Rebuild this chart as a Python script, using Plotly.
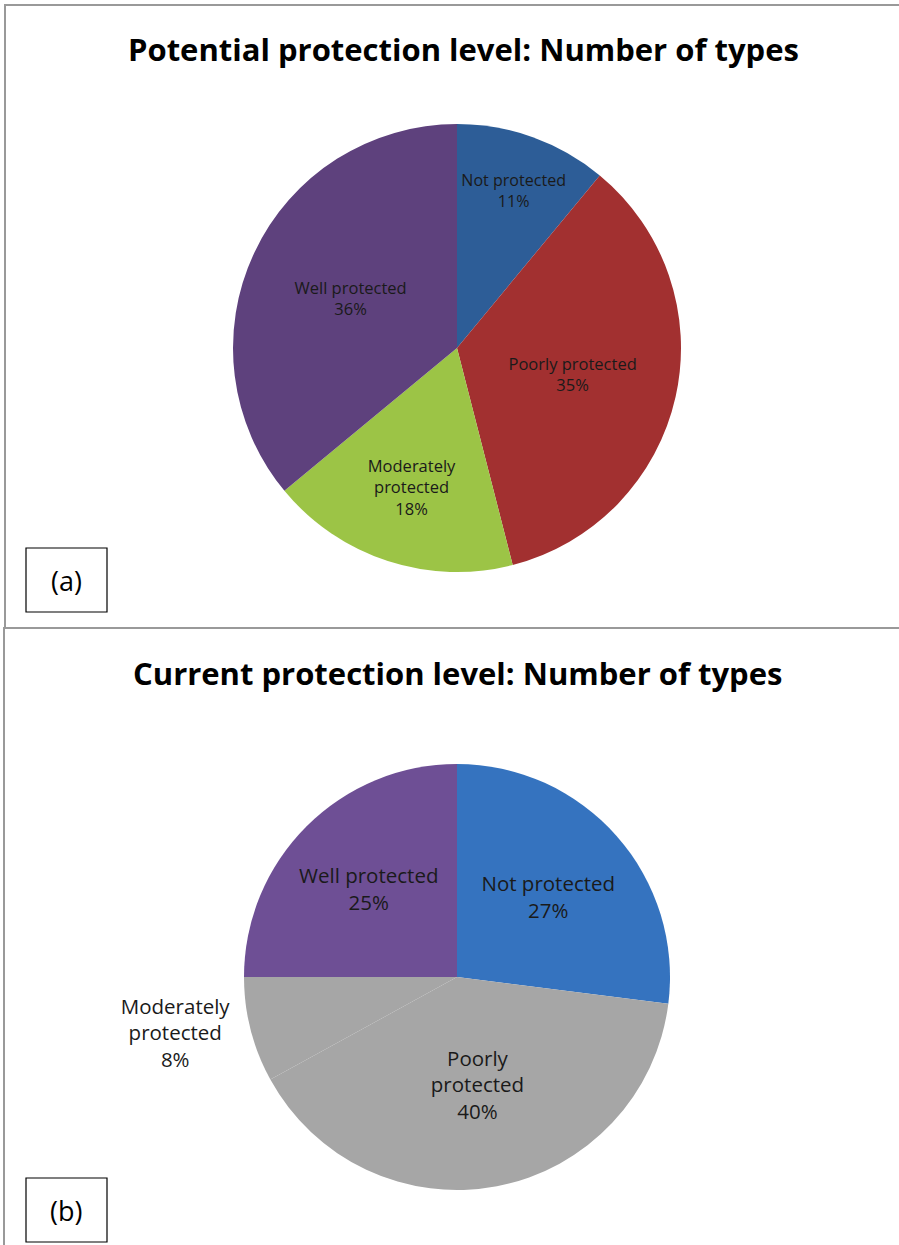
import plotly.graph_objects as go

W, H = 899, 1245

# ---- data ----
labels = ["Not protected", "Poorly protected", "Moderately protected", "Well protected"]
potential_values = [11, 35, 18, 36]
current_values = [27, 40, 8, 25]

potential_labels = ["Not protected", "Poorly protected", "Moderately<br>protected", "Well protected"]
current_labels = ["Not protected", "Poorly<br>protected", "Moderately<br>protected", "Well protected"]

potential_colors = ["#2D5D97", "#A23030", "#9CC446", "#5E417D"]
current_colors = ["#3573BF", "#A6A6A6", "#A6A6A6", "#6E4F95"]

title_a = "Potential protection level: Number of types"
title_b = "Current protection level: Number of types"

FONT = "Open Sans"


def px(x):
    return x / W


def py(y):
    return 1 - y / H


fig = go.Figure()

fig.add_trace(go.Pie(
    labels=labels,
    values=potential_values,
    text=potential_labels,
    texttemplate="%{text}<br>%{value}%",
    textinfo="text",
    sort=False,
    direction="clockwise",
    rotation=0,
    marker=dict(colors=potential_colors, line=dict(width=0)),
    textposition="inside",
    insidetextorientation="horizontal",
    textfont=dict(family=FONT, size=16.5, color="#1a1a1a"),
    domain=dict(x=[px(233), px(681)], y=[py(572), py(124)]),
    showlegend=False,
    hoverinfo="label+percent",
))

fig.add_trace(go.Pie(
    labels=labels,
    values=current_values,
    text=current_labels,
    texttemplate="%{text}<br>%{value}%",
    textinfo="text",
    sort=False,
    direction="clockwise",
    rotation=0,
    marker=dict(colors=current_colors, line=dict(width=0)),
    textposition=["inside", "inside", "outside", "inside"],
    insidetextorientation="horizontal",
    textfont=dict(family=FONT, size=20.5, color="#1a1a1a"),
    outsidetextfont=dict(family=FONT, size=20.5, color="#1a1a1a"),
    domain=dict(x=[px(244), px(670)], y=[py(1190), py(764)]),
    showlegend=False,
    hoverinfo="label+percent",
))

shapes = [
    # panel (a) border
    dict(type="rect", xref="paper", yref="paper",
         x0=px(5), x1=px(905), y0=py(628), y1=py(5),
         line=dict(color="#999999", width=2), fillcolor="rgba(0,0,0,0)"),
    # panel (b) border
    dict(type="rect", xref="paper", yref="paper",
         x0=px(4), x1=px(905), y0=py(1250), y1=py(628),
         line=dict(color="#999999", width=2), fillcolor="rgba(0,0,0,0)"),
    # label boxes
    dict(type="rect", xref="paper", yref="paper",
         x0=px(26), x1=px(107), y0=py(612), y1=py(548),
         line=dict(color="#000000", width=1.2), fillcolor="white"),
    dict(type="rect", xref="paper", yref="paper",
         x0=px(26), x1=px(107), y0=py(1242), y1=py(1178),
         line=dict(color="#000000", width=1.2), fillcolor="white"),
]

annotations = [
    dict(text="<b>" + title_a + "</b>", x=px(463), y=py(49), xref="paper", yref="paper",
         showarrow=False, xanchor="center", yanchor="middle",
         font=dict(family=FONT, size=31, color="#000000")),
    dict(text="<b>" + title_b + "</b>", x=px(457), y=py(673), xref="paper", yref="paper",
         showarrow=False, xanchor="center", yanchor="middle",
         font=dict(family=FONT, size=31, color="#000000")),
    dict(text="(a)", x=px(66), y=py(580), xref="paper", yref="paper",
         showarrow=False, xanchor="center", yanchor="middle",
         font=dict(family=FONT, size=27, color="#000000")),
    dict(text="(b)", x=px(66), y=py(1210), xref="paper", yref="paper",
         showarrow=False, xanchor="center", yanchor="middle",
         font=dict(family=FONT, size=27, color="#000000")),
]

fig.update_layout(
    width=W, height=H,
    margin=dict(l=0, r=0, t=0, b=0),
    paper_bgcolor="white",
    plot_bgcolor="white",
    shapes=shapes,
    annotations=annotations,
    font=dict(family=FONT),
)

fig.write_html("out.html")
